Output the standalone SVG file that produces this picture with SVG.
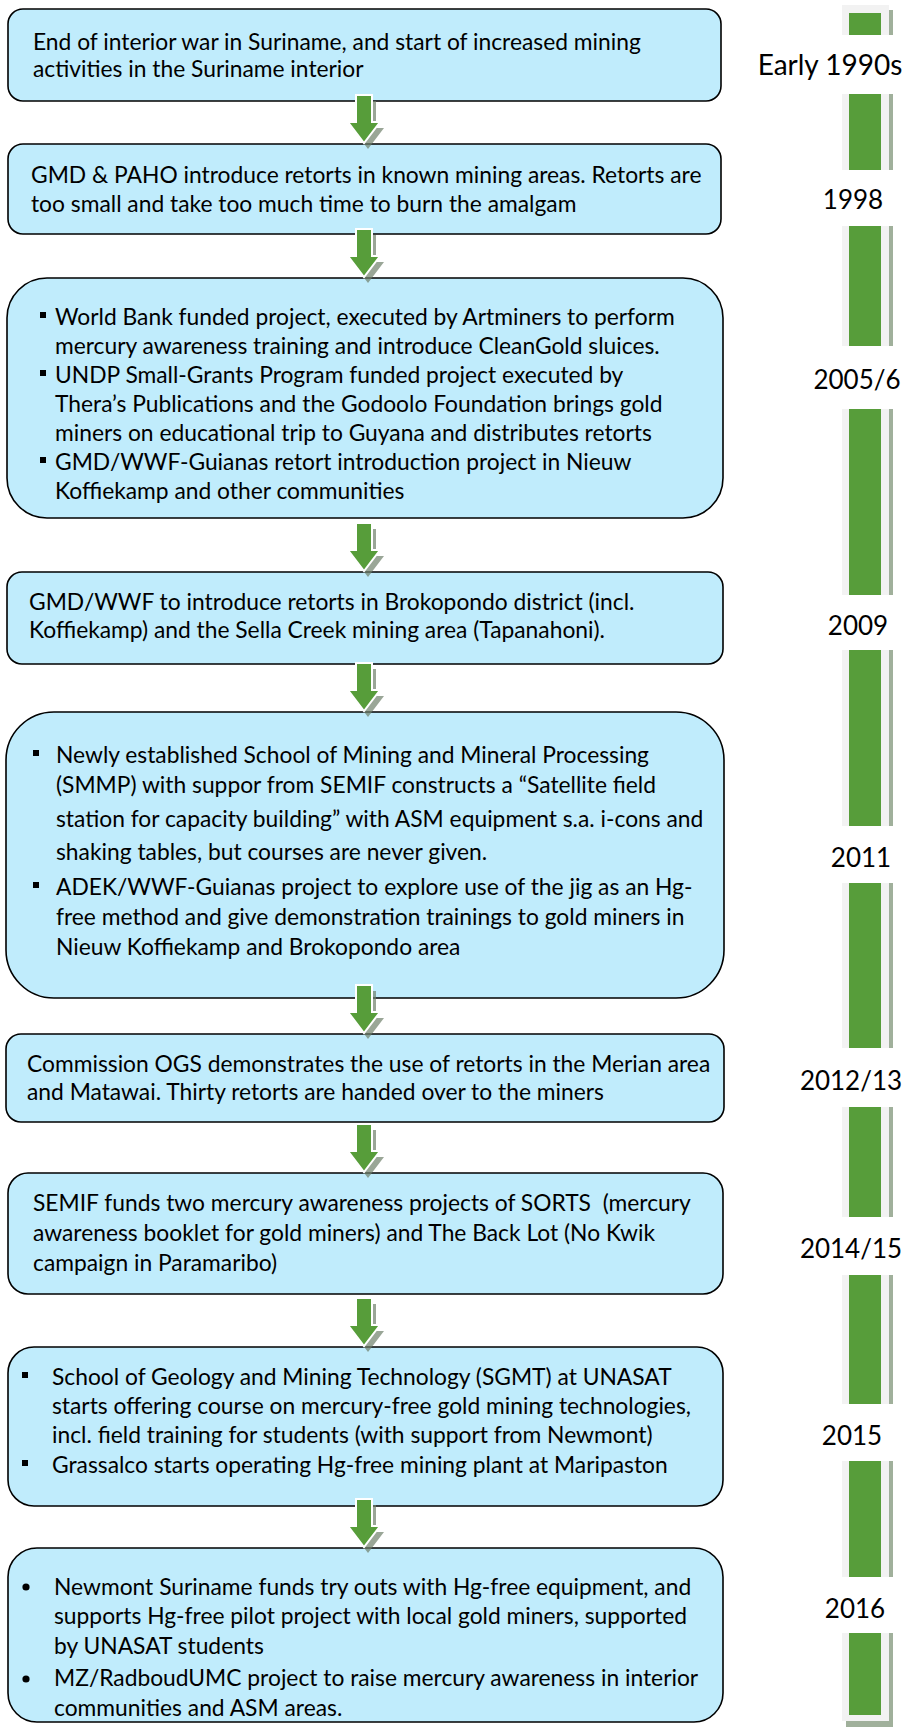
<svg xmlns="http://www.w3.org/2000/svg" xmlns:xlink="http://www.w3.org/1999/xlink" width="904" height="1729" viewBox="0 0 904 1729">
<style>
.box{fill:#c0ecfc;stroke:#000;stroke-width:1.6}
.t{font-family:Lato,"Open Sans","Liberation Sans",sans-serif;font-size:22.8px;fill:#000;white-space:pre}
.yr{font-family:Lato,"Open Sans","Liberation Sans",sans-serif;font-size:26px;fill:#000;text-anchor:middle}
.sq{fill:#000}
</style>
<defs>
<g id="arr">
<path d="M-4 6 H12 V33 H20 L4 54 L-12 33 H-4 Z" fill="#6f806b" opacity="0.7"/>
<path d="M-8 0 H8 V27 H16 L0 48 L-16 27 H-8 Z" fill="#579d3a" stroke="#fff" stroke-width="2" stroke-linejoin="miter"/>
</g>
<clipPath id="c3"><rect x="7" y="278" width="716" height="225"/></clipPath>
</defs>
<rect width="904" height="1729" fill="#fff"/>

<g id="timeline">
<rect x="846" y="10" width="47" height="1717" fill="#a0b09b"/>
<rect x="842" y="5" width="47" height="1716" fill="#f2f2f2"/>
<rect x="849" y="13" width="32" height="1702" fill="#579d3a"/>
<g fill="#fff">
<rect x="745" y="35" width="159" height="59"/>
<rect x="745" y="170" width="159" height="56"/>
<rect x="745" y="346" width="159" height="63"/>
<rect x="745" y="595" width="159" height="55"/>
<rect x="745" y="826" width="159" height="57"/>
<rect x="745" y="1048" width="159" height="59"/>
<rect x="745" y="1217" width="159" height="58"/>
<rect x="745" y="1404" width="159" height="57"/>
<rect x="745" y="1577" width="159" height="56"/>
</g>
<text class="yr" x="830" y="75" style="font-size:28px">Early 1990s</text>
<text class="yr" x="853" y="209">1998</text>
<text class="yr" x="857" y="389">2005/6</text>
<text class="yr" x="858" y="635">2009</text>
<text class="yr" x="861" y="867">2011</text>
<text class="yr" x="851" y="1090">2012/13</text>
<text class="yr" x="851" y="1258">2014/15</text>
<text class="yr" x="852" y="1445">2015</text>
<text class="yr" x="855" y="1618">2016</text>
</g>

<g id="n1">
<rect class="box" x="8" y="9" width="713" height="92" rx="15"/>
<text class="t" x="33" y="50">End of interior war in Suriname, and start of increased mining</text>
<text class="t" x="33" y="77">activities in the Suriname interior</text>
</g>
<g id="n2">
<rect class="box" x="8" y="144" width="713" height="90" rx="15"/>
<text class="t" x="31" y="183">GMD &amp; PAHO introduce retorts in known mining areas. Retorts are</text>
<text class="t" x="31" y="212">too small and take too much time to burn the amalgam</text>
</g>
<g id="n3">
<rect class="box" x="7" y="278" width="716" height="240" rx="40"/>
<g clip-path="url(#c3)">
<rect class="sq" x="40" y="312" width="6" height="6"/>
<text class="t" x="55" y="325">World Bank funded project, executed by Artminers to perform</text>
<text class="t" x="55" y="354">mercury awareness training and introduce CleanGold sluices.</text>
<rect class="sq" x="40" y="370" width="6" height="6"/>
<text class="t" x="55" y="383">UNDP Small-Grants Program funded project executed by</text>
<text class="t" x="55" y="412">Thera’s Publications and the Godoolo Foundation brings gold</text>
<text class="t" x="55" y="441">miners on educational trip to Guyana and distributes retorts</text>
<rect class="sq" x="40" y="457" width="6" height="6"/>
<text class="t" x="55" y="470">GMD/WWF-Guianas retort introduction project in Nieuw</text>
<text class="t" x="55" y="499">Koffiekamp and other communities</text>
</g>
</g>
<g id="n4">
<rect class="box" x="7" y="572" width="716" height="92" rx="15"/>
<text class="t" x="29" y="610">GMD/WWF to introduce retorts in Brokopondo district (incl.</text>
<text class="t" x="29" y="638">Koffiekamp) and the Sella Creek mining area (Tapanahoni).</text>
</g>
<g id="n5">
<rect class="box" x="6" y="712" width="718" height="286" rx="48"/>
<rect class="sq" x="33" y="750" width="6" height="6"/>
<text class="t" x="56" y="763">Newly established School of Mining and Mineral Processing</text>
<text class="t" x="56" y="793">(SMMP) with suppor from SEMIF constructs a “Satellite field</text>
<text class="t" x="56" y="827">station for capacity building” with ASM equipment s.a. i-cons and</text>
<text class="t" x="56" y="860">shaking tables, but courses are never given.</text>
<rect class="sq" x="33" y="882" width="6" height="6"/>
<text class="t" x="56" y="895">ADEK/WWF-Guianas project to explore use of the jig as an Hg-</text>
<text class="t" x="56" y="925">free method and give demonstration trainings to gold miners in</text>
<text class="t" x="56" y="955">Nieuw Koffiekamp and Brokopondo area</text>
</g>
<g id="n6">
<rect class="box" x="6" y="1034" width="718" height="88" rx="15"/>
<text class="t" x="27" y="1072">Commission OGS demonstrates the use of retorts in the Merian area</text>
<text class="t" x="27" y="1100">and Matawai. Thirty retorts are handed over to the miners</text>
</g>
<g id="n7">
<rect class="box" x="8" y="1173" width="715" height="121" rx="20"/>
<text class="t" x="33" y="1211">SEMIF funds two mercury awareness projects of SORTS  (mercury</text>
<text class="t" x="33" y="1241">awareness booklet for gold miners) and The Back Lot (No Kwik</text>
<text class="t" x="33" y="1271">campaign in Paramaribo)</text>
</g>
<g id="n8">
<rect class="box" x="8" y="1347" width="715" height="159" rx="26"/>
<rect class="sq" x="22" y="1372" width="6" height="6"/>
<text class="t" x="52" y="1385">School of Geology and Mining Technology (SGMT) at UNASAT</text>
<text class="t" x="52" y="1414">starts offering course on mercury-free gold mining technologies,</text>
<text class="t" x="52" y="1443">incl. field training for students (with support from Newmont)</text>
<rect class="sq" x="22" y="1460" width="6" height="6"/>
<text class="t" x="52" y="1473">Grassalco starts operating Hg-free mining plant at Maripaston</text>
</g>
<g id="n9">
<rect class="box" x="8" y="1548" width="715" height="174" rx="29"/>
<circle class="sq" cx="26" cy="1587" r="3.6"/>
<text class="t" x="54" y="1595">Newmont Suriname funds try outs with Hg-free equipment, and</text>
<text class="t" x="54" y="1624">supports Hg-free pilot project with local gold miners, supported</text>
<text class="t" x="54" y="1654">by UNASAT students</text>
<circle class="sq" cx="26" cy="1679" r="3.6"/>
<text class="t" x="54" y="1686">MZ/RadboudUMC project to raise mercury awareness in interior</text>
<text class="t" x="54" y="1716">communities and ASM areas.</text>
</g>

<g id="connectors">
<use xlink:href="#arr" x="364" y="95"/>
<use xlink:href="#arr" x="364" y="229"/>
<use xlink:href="#arr" x="364" y="523"/>
<use xlink:href="#arr" x="364" y="663"/>
<use xlink:href="#arr" x="364" y="985"/>
<use xlink:href="#arr" x="364" y="1124"/>
<use xlink:href="#arr" x="364" y="1298"/>
<use xlink:href="#arr" x="364" y="1499"/>
</g>
</svg>
